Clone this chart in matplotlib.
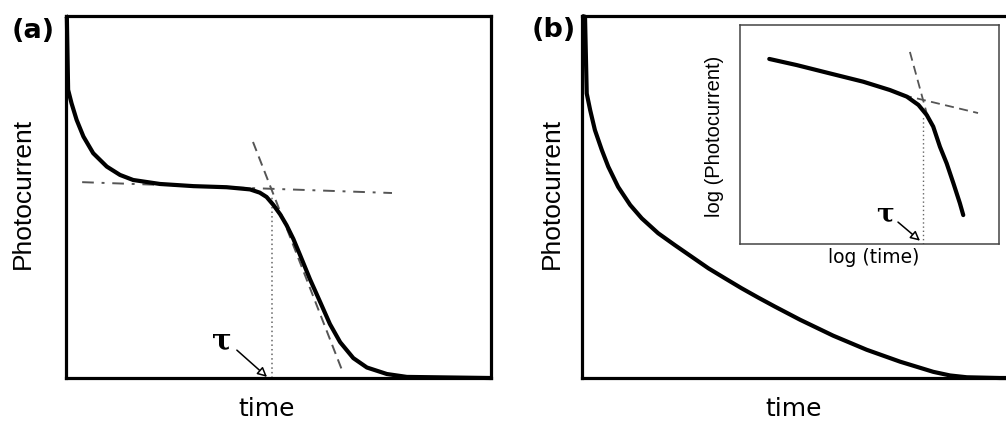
import matplotlib.pyplot as plt

# panel (a): transient with a plateau, arbitrary units (0-10 on both axes)
a_time = [0.0, 0.02, 0.05, 0.13, 0.25, 0.41, 0.64, 0.96, 1.27, 1.58, 2.21, 3.00,
          3.78, 4.33, 4.56, 4.72, 4.88, 5.04, 5.19, 5.35, 5.51, 5.74, 5.98, 6.21,
          6.45, 6.76, 7.08, 7.55, 8.02, 9.98]
a_curr = [10.0, 9.98, 7.96, 7.59, 7.13, 6.67, 6.21, 5.84, 5.61, 5.47, 5.36, 5.30,
          5.27, 5.21, 5.12, 5.00, 4.78, 4.52, 4.22, 3.84, 3.39, 2.73, 2.10, 1.49,
          0.99, 0.55, 0.29, 0.11, 0.03, 0.0]
a_flat_x = [0.38, 7.67]
a_flat_y = [5.41, 5.11]
a_steep_x = [4.40, 6.52]
a_steep_y = [6.52, 0.14]
a_tau = 4.85
a_tau_top = 5.0

# panel (b): dispersive decay
b_time = [0.0, 0.07, 0.11, 0.19, 0.30, 0.46, 0.61, 0.84, 1.12, 1.39, 1.77, 2.16,
          2.55, 2.94, 3.33, 3.71, 4.10, 4.49, 5.07, 5.84, 6.62, 7.40, 8.17, 8.56,
          8.95, 9.72, 9.86]
b_curr = [10.0, 9.98, 7.86, 7.40, 6.85, 6.30, 5.84, 5.28, 4.78, 4.41, 4.00, 3.67,
          3.35, 3.03, 2.75, 2.48, 2.22, 1.97, 1.61, 1.17, 0.78, 0.45, 0.17, 0.07,
          0.02, 0.0, 0.0]

# inset: log-log view of (b)
ins_logt = [1.13, 2.19, 3.47, 4.76, 5.79, 6.44, 6.89, 7.21, 7.46, 7.72, 7.98, 8.24, 8.49, 8.62]
ins_logi = [8.45, 8.17, 7.79, 7.41, 7.03, 6.73, 6.35, 5.89, 5.36, 4.44, 3.68, 2.77, 1.86, 1.32]
ins_steep_x = [6.56, 7.26]
ins_steep_y = [8.77, 5.75]
ins_flat_x = [6.29, 9.19]
ins_flat_y = [6.80, 5.98]
ins_tau = 7.07
ins_tau_top = 5.8

W, H = 1006, 421
fig = plt.figure(figsize=(W / 100, H / 100), dpi=100)

sans = 'DejaVu Sans'
arial = 'Liberation Sans'
guide = '#555555'


def frame(ax, lw):
    ax.set_xlim(0, 10)
    ax.set_ylim(0, 10)
    ax.set_xticks([])
    ax.set_yticks([])
    for s in ax.spines.values():
        s.set_linewidth(lw)


def tau_mark(ax, txt_xy, start, tip, size):
    ax.text(txt_xy[0], txt_xy[1], 'τ', fontsize=size, family='DejaVu Serif',
            fontweight='bold', ha='center', va='center')
    ax.annotate('', xy=tip, xytext=start,
                arrowprops=dict(arrowstyle='-|>', fc='white', ec='black', lw=1.1,
                                mutation_scale=14, shrinkA=0, shrinkB=0))


curve = dict(color='black', lw=3.0, solid_joinstyle='round')

# ---- (a)
axa = fig.add_axes([66 / W, 43 / H, 425 / W, 362 / H])
frame(axa, 2.3)
axa.plot(a_flat_x, a_flat_y, color=guide, lw=1.4, ls=(0, (6, 4, 1.5, 4)))
axa.plot(a_steep_x, a_steep_y, color=guide, lw=1.4, ls=(0, (5, 3)))
axa.plot([a_tau, a_tau], [0, a_tau_top], color='#666666', lw=1.1, ls=(0, (1, 2)))
axa.plot(a_time, a_curr, clip_on=False, solid_capstyle='butt', **curve)
tau_mark(axa, (3.67, 1.03), (4.02, 0.77), (4.73, 0.03), 21)

# ---- (b)
axb = fig.add_axes([582 / W, 43 / H, 430 / W, 362 / H])
frame(axb, 2.3)
axb.plot(b_time, b_curr, clip_on=False, solid_capstyle='butt', **curve)

# ---- inset
axi = fig.add_axes([740 / W, 177 / H, 259 / W, 219 / H])
frame(axi, 1.1)
for s in axi.spines.values():
    s.set_color('#444444')
axi.plot(ins_steep_x, ins_steep_y, color=guide, lw=1.3, ls=(0, (5, 3)))
axi.plot(ins_flat_x, ins_flat_y, color=guide, lw=1.3, ls=(0, (5, 3)))
axi.plot([ins_tau, ins_tau], [0, ins_tau_top], color='#666666', lw=1.0, ls=(0, (1, 2)))
axi.plot(ins_logt, ins_logi, solid_capstyle='round', **curve)
tau_mark(axi, (5.6, 1.35), (6.1, 1.0), (6.95, 0.15), 19)


# ---- labels
def ftext(x, y, s, **kw):
    fig.text(x / W, 1 - y / H, s, **kw)


ftext(12, 31, '(a)', fontsize=19.5, fontweight='bold', family=sans, ha='left', va='center')
ftext(532, 30, '(b)', fontsize=19.5, fontweight='bold', family=sans, ha='left', va='center')
ftext(23, 193, 'Photocurrent', fontsize=19, family=arial, rotation=90, ha='center', va='center')
ftext(552, 193, 'Photocurrent', fontsize=19, family=arial, rotation=90, ha='center', va='center')
ftext(267, 416, 'time', fontsize=18, family=sans, ha='center', va='baseline')
ftext(794, 416, 'time', fontsize=18, family=sans, ha='center', va='baseline')
ftext(874, 263, 'log (time)', fontsize=13.5, family=sans, ha='center', va='baseline')
ftext(715, 136, 'log (Photocurrent)', fontsize=14.5, family=arial, rotation=90,
      ha='center', va='center')

fig.savefig('out.png', dpi=100)
